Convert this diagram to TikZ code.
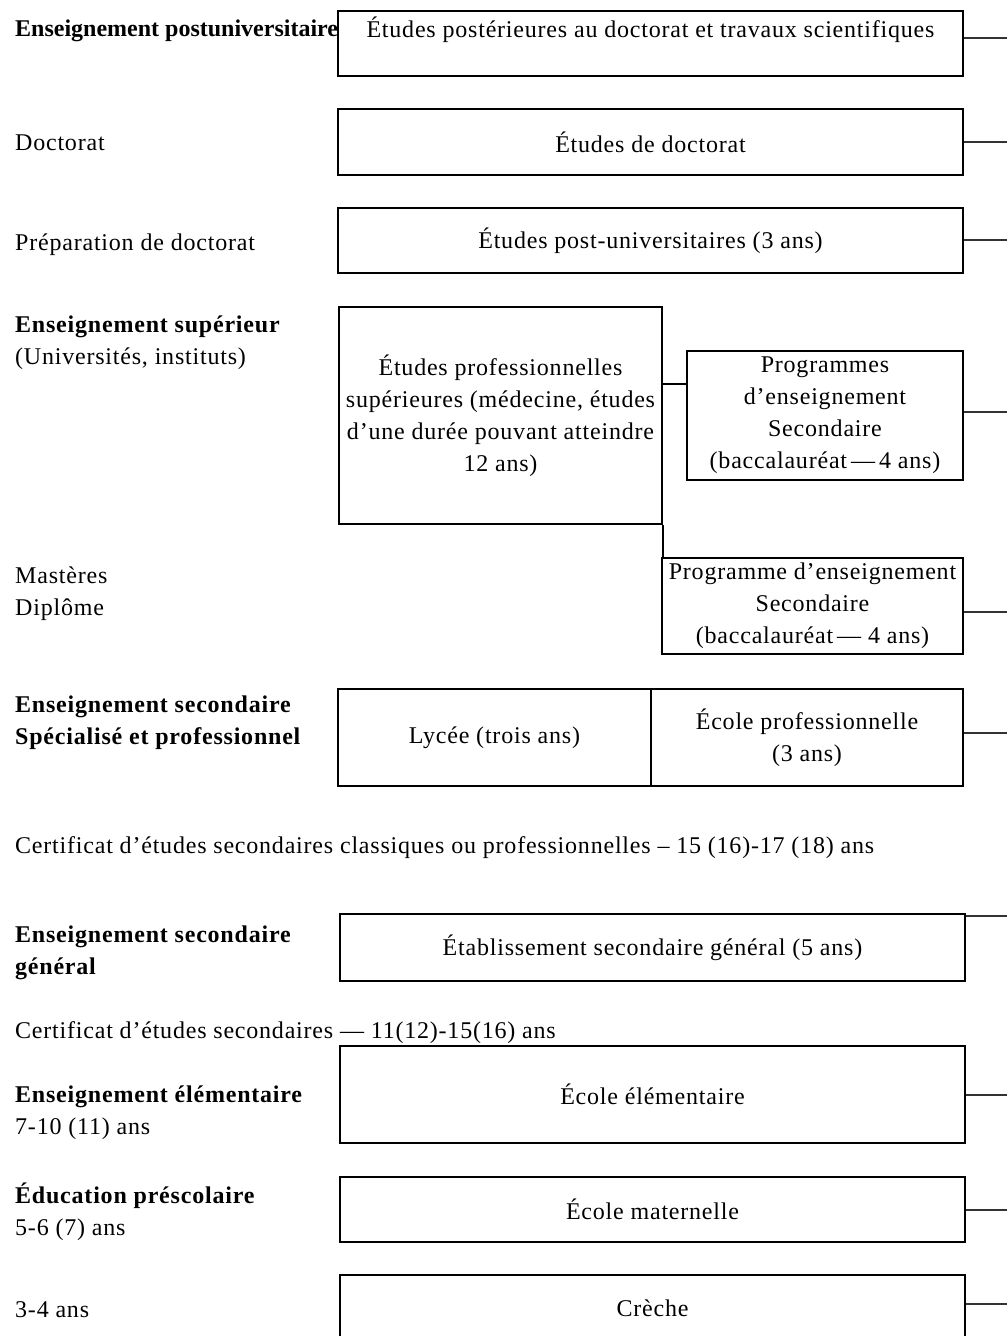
\documentclass[tikz,border=0pt]{standalone}
\usepackage{fontspec}
\setmainfont{Liberation Serif}[LetterSpace=3.3]
\newfontfamily\tightserif{Liberation Serif}
\begin{document}
\begin{tikzpicture}[x=1pt,y=-1pt,font=\fontsize{24}{32}\selectfont,
  box/.style={draw,line width=2pt,inner sep=0pt,align=center},
  lbl/.style={anchor=west,align=left,inner sep=0pt},
  conn/.style={line width=1.2pt,black!80}]
\useasboundingbox (0,0) rectangle (1007,1336);
\clip (0,0) rectangle (1007,1336);
% boxes
\node[box,minimum width=625,minimum height=65] (b1) at (650.5,43.5) {Études postérieures au doctorat et travaux scientifiques\\\mbox{}};
\node[box,minimum width=625,minimum height=66] (b2) at (650.5,142) {Études de doctorat};
\node[box,minimum width=625,minimum height=65] (b3) at (650.5,240.5) {Études post-universitaires (3 ans)};
\node[box,minimum width=323,minimum height=217] (big) at (500.5,415.5) {Études professionnelles\\supérieures (médecine, études\\d’une durée pouvant atteindre\\12 ans)};
\node[box,minimum width=276,minimum height=129] (prog) at (825,415.5) {Programmes\\d’enseignement\\Secondaire\\(baccalauréat\,—\,4 ans)};
\node[box,minimum width=301,minimum height=96] (low) at (812.5,606) {Programme d’enseignement\\Secondaire\\(baccalauréat\,—\ 4 ans)};
\node[box,minimum width=313,minimum height=97] (lyc) at (494.5,737.5) {Lycée (trois ans)};
\node[box,minimum width=312,minimum height=97] (prof) at (807,737.5) {École professionnelle\\(3 ans)};
\node[box,minimum width=625,minimum height=67] (etab) at (652.5,947.5) {Établissement secondaire général (5 ans)};
\node[box,minimum width=625,minimum height=97] (elem) at (652.5,1094.5) {École élémentaire};
\node[box,minimum width=625,minimum height=65] (mat) at (652.5,1209.5) {École maternelle};
\node[box,minimum width=625,minimum height=67] (cre) at (652.5,1308.5) {Crèche};
% labels
\node[lbl] (l1) at (15,31) {\tightserif\bfseries Enseignement postuniversitaire};
\node[lbl] (l2) at (15,143) {Doctorat};
\node[lbl] (l3) at (15,245) {Préparation de doctorat};
\node[lbl] (l4) at (15,342.5) {\textbf{Enseignement supérieur}\\(Universités, instituts)};
\node[lbl] (l5) at (15,593.5) {Mastères\\Diplôme};
\node[lbl,font=\fontsize{24}{32}\selectfont\bfseries] (l6) at (15,723) {Enseignement secondaire\\Spécialisé et professionnel};
\node[lbl] (c1) at (15,848) {Certificat d’études secondaires classiques ou professionnelles – 15 (16)-17 (18) ans};
\node[lbl,font=\fontsize{24}{32}\selectfont\bfseries] (l7) at (15,952.5) {Enseignement secondaire\\général};
\node[lbl] (c2) at (15,1033) {Certificat d’études secondaires — 11(12)-15(16) ans};
\node[lbl] (l8) at (15,1112.5) {\textbf{Enseignement élémentaire}\\7-10 (11) ans};
\node[lbl] (l9) at (15,1211.5) {\textbf{Éducation préscolaire}\\5-6 (7) ans};
\node[lbl] (l10) at (15,1310) {3-4 ans};
% free ends
\coordinate (e1) at (1007,38);
\coordinate (e2) at (1007,142);
\coordinate (e3) at (1007,240);
\coordinate (e4) at (1007,412);
\coordinate (e5) at (1007,612);
\coordinate (e6) at (1007,733);
\coordinate (e7) at (1007,916);
\coordinate (e8) at (1007,1095);
\coordinate (e9) at (1007,1210);
\coordinate (e10) at (1007,1304);
% connectors
\draw[line width=2pt] (big.east|-0,384) -- (prog.west|-0,384);
\draw[line width=2pt] (big.south east) -- (big.south east|-low.north);
\draw[conn] (b1.east|-e1) -- (e1);
\draw[conn] (b2.east|-e2) -- (e2);
\draw[conn] (b3.east|-e3) -- (e3);
\draw[conn] (prog.east|-e4) -- (e4);
\draw[conn] (low.east|-e5) -- (e5);
\draw[conn] (prof.east|-e6) -- (e6);
\draw[conn] (etab.east|-e7) -- (e7);
\draw[conn] (elem.east|-e8) -- (e8);
\draw[conn] (mat.east|-e9) -- (e9);
\draw[conn] (cre.east|-e10) -- (e10);
\end{tikzpicture}
\end{document}
